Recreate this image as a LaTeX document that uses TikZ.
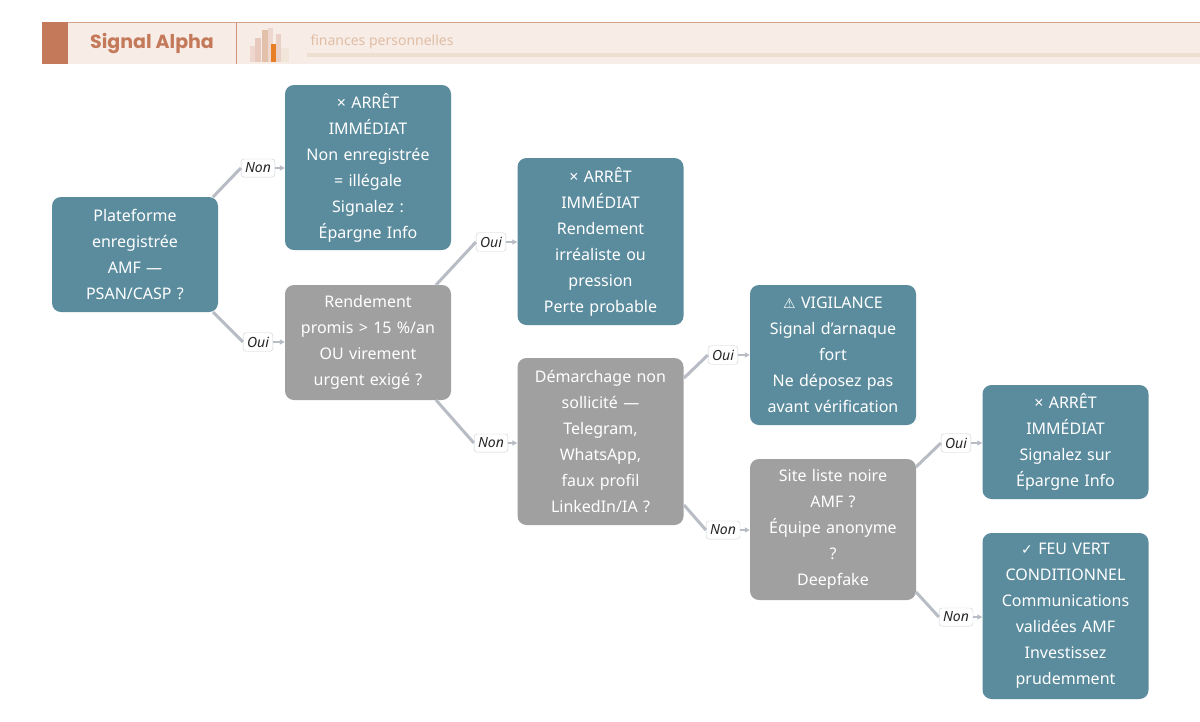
\documentclass[tikz,border=0pt]{standalone}
\usepackage{fontspec}
\setmainfont{Noto Sans}
\newfontfamily\popp{Poppins}
\usetikzlibrary{arrows.meta}
\definecolor{teal}{HTML}{5B8C9E}
\definecolor{grayb}{HTML}{A0A0A0}
\definecolor{edge}{HTML}{B8BCC4}
\definecolor{hdr}{HTML}{F7ECE6}
\definecolor{rust}{HTML}{C47A5A}
\begin{document}
\begin{tikzpicture}[x=1pt,y=-1pt,
  box/.style={rounded corners=9pt,minimum width=166pt,text width=160pt,align=center,text=white,font=\fontsize{16}{26}\selectfont,inner sep=0pt},
  leaf/.style={box,fill=teal},
  q/.style={box,fill=grayb},
  lab/.style={draw=edge!70,fill=white,rounded corners=3pt,font=\fontsize{14}{16}\selectfont\itshape,inner xsep=4pt,inner ysep=4pt,text=black!85},
  con/.style={draw=edge,line width=3pt},
  arr/.style={draw=edge,line width=1.5pt,-{Triangle[length=5pt,width=5pt]}}]
\useasboundingbox (0,0) rectangle (1200,721);
\fill[white] (0,0) rectangle (1200,721);
% header
\fill[hdr] (42,22) rectangle (1200,64);
\draw[rust!70,line width=1pt] (42,22) -- (1200,22);
\fill[rust] (42,22) rectangle (68,64);
\draw[rust!80,line width=1pt] (236,22) -- (236,64);
\node[font=\popp\bfseries\fontsize{19}{20}\selectfont,text=rust] (title) at (152,43) {Signal\ Alpha};
\fill[rust!30] (250,46) rectangle (256,62);
\fill[rust!40] (255,38) rectangle (261,62);
\fill[rust!25!hdr!80!brown] (262,30) rectangle (268,62);
\fill[rust!30] (268,28) rectangle (273,62);
\fill[orange!60!rust] (271,44) rectangle (278,62);
\fill[rust!35] (276,34) rectangle (281,62);
\fill[brown!20] (281,48) rectangle (289,62);
\fill[rust!15!brown!25] (307,53) rectangle (1200,57);
\node[anchor=west,font=\fontsize{14}{16}\selectfont,text=rust!40!brown!50] (sub) at (307,42) {finances personnelles};
% nodes
\node[leaf,minimum height=115pt] (A) at (135,254.5) {Plateforme\\enregistrée\\AMF —\\PSAN/CASP ?};
\node[leaf,minimum height=165pt] (B) at (368,167.5) {× ARRÊT\\IMMÉDIAT\\Non enregistrée\\= illégale\\Signalez :\\Épargne Info};
\node[q,minimum height=115pt] (C) at (368,342.5) {Rendement\\promis > 15 \%/an\\OU virement\\urgent exigé ?};
\node[leaf,minimum height=167pt] (D) at (600.5,241.5) {× ARRÊT\\IMMÉDIAT\\Rendement\\irréaliste ou\\pression\\Perte probable};
\node[q,minimum height=167pt] (E) at (600.5,441.5) {Démarchage non\\sollicité —\\Telegram,\\WhatsApp,\\faux profil\\LinkedIn/IA ?};
\node[leaf,minimum height=140pt] (F) at (833,355) {{\fontspec{DejaVu Sans}\fontsize{14}{26}\selectfont ⚠} VIGILANCE\\Signal d'arnaque\\fort\\Ne déposez pas\\avant vérification};
\node[q,minimum height=141pt] (G) at (833,529.5) {Site liste noire\\AMF ?\\Équipe anonyme\\?\\Deepfake};
\node[leaf,minimum height=114pt] (H) at (1065.5,442) {× ARRÊT\\IMMÉDIAT\\Signalez sur\\Épargne Info};
\node[leaf,minimum height=166pt] (I) at (1065.5,616) {{\fontspec{DejaVu Sans}\fontsize{14}{26}\selectfont ✓} FEU VERT\\CONDITIONNEL\\Communications\\validées AMF\\Investissez\\prudemment};
% edges
\newcommand{\edg}[5]{%
 \node[lab] (#5) at #3 {#4};
 \draw[con] (#1) -- (#5.west);
 \draw[arr] (#5.east) -- (#2.west |- #5);}
\coordinate (a1) at (213,197); \coordinate (a2) at (213,312);
\coordinate (c1) at (436,285); \coordinate (c2) at (436,400);
\coordinate (e1) at (684,378); \coordinate (e2) at (684,505);
\coordinate (g1) at (916,467); \coordinate (g2) at (916,592);
\edg{a1}{B}{(258,168)}{Non}{l1}
\edg{a2}{C}{(258,342)}{Oui}{l2}
\edg{c1}{D}{(491,242)}{Oui}{l3}
\edg{c2}{E}{(491,443)}{Non}{l4}
\edg{e1}{F}{(723,355)}{Oui}{l5}
\edg{e2}{G}{(723,530)}{Non}{l6}
\edg{g1}{H}{(956,443)}{Oui}{l7}
\edg{g2}{I}{(956,617)}{Non}{l8}
\end{tikzpicture}
\end{document}
